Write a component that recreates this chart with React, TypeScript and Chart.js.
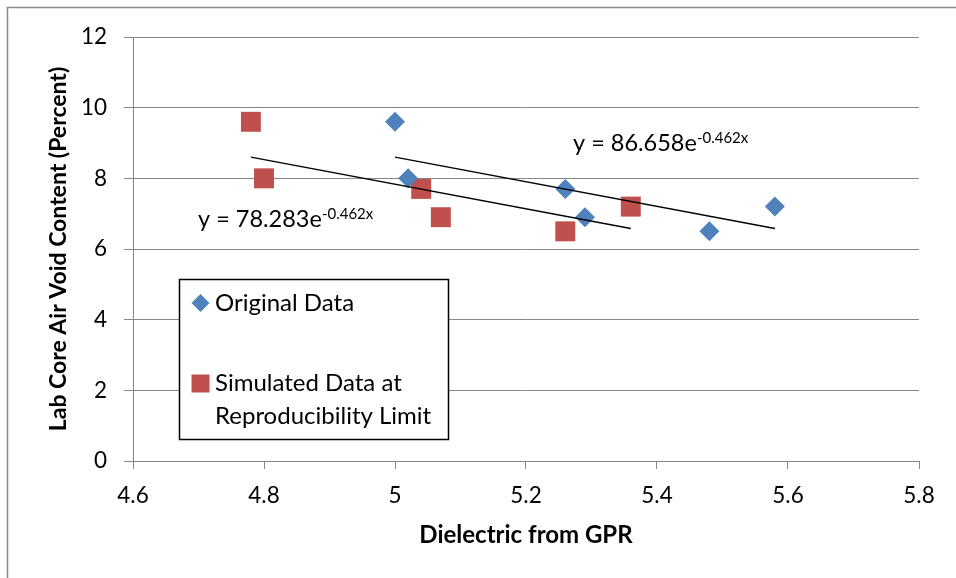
import { useEffect, useRef } from 'react';
import { Chart, registerables } from 'chart.js';

Chart.register(...registerables);

// Data
const originalX = [5.0, 5.02, 5.26, 5.29, 5.48, 5.58];
const originalY = [9.6, 8.0, 7.7, 6.9, 6.5, 7.2];
const simulatedX = [4.78, 4.8, 5.04, 5.07, 5.26, 5.36];
const simulatedY = [9.6, 8.0, 7.7, 6.9, 6.5, 7.2];
const originalTrendX = [5.0, 5.58];
const originalTrendY = [8.6, 6.58];
const simulatedTrendX = [4.78, 5.36];
const simulatedTrendY = [8.6, 6.58];
const xTickLabels = ['4.6', '4.8', '5', '5.2', '5.4', '5.6', '5.8'];
const yTickLabels = ['0', '2', '4', '6', '8', '10', '12'];
const seriesNames = ['Original Data', 'Simulated Data at', 'Reproducibility Limit'];
const originalEquation = ['y = 86.658e', '-0.462x'];
const simulatedEquation = ['y = 78.283e', '-0.462x'];
const xTitle = 'Dielectric from GPR';
const yTitle = 'Lab Core Air Void Content (Percent)';

const BLUE = '#4F81BD';
const RED = '#C0504D';
const GRID = '#878787';
const FONT = 'Lato, "Open Sans", sans-serif';

const toPoints = (xs: number[], ys: number[]) => xs.map((x, i) => ({ x, y: ys[i] }));

export default function App() {
  const ref = useRef<HTMLCanvasElement>(null);

  useEffect(() => {
    const canvas = ref.current!;

    const overlay = {
      id: 'overlay',
      beforeDraw(chart: any) {
        const ctx = chart.ctx;
        ctx.save();
        ctx.fillStyle = '#ffffff';
        ctx.fillRect(0, 0, chart.width, chart.height);
        ctx.restore();
      },
      afterDraw(chart: any) {
        const ctx: CanvasRenderingContext2D = chart.ctx;
        ctx.save();
        // outer chart border
        ctx.strokeStyle = '#8a8a8a';
        ctx.lineWidth = 1.5;
        ctx.strokeRect(7.5, 7.5, 1200, 1200);

        // equations
        const drawEq = (eq: string[], x: number, y: number) => {
          ctx.fillStyle = '#000';
          ctx.textBaseline = 'alphabetic';
          ctx.textAlign = 'left';
          ctx.font = `23.5px ${FONT}`;
          ctx.fillText(eq[0], x, y);
          const w = ctx.measureText(eq[0]).width;
          ctx.font = `15px ${FONT}`;
          ctx.fillText(eq[1], x + w, y - 8);
        };
        drawEq(originalEquation, 573, 151);
        drawEq(simulatedEquation, 198, 227);

        // legend box
        ctx.fillStyle = '#ffffff';
        ctx.fillRect(179, 279, 270, 161);
        ctx.strokeStyle = '#000';
        ctx.lineWidth = 1.5;
        ctx.strokeRect(179.5, 279.5, 269, 160);

        // diamond
        ctx.fillStyle = BLUE;
        ctx.beginPath();
        ctx.moveTo(200.5 - 9, 303);
        ctx.lineTo(200.5, 303 - 9);
        ctx.lineTo(200.5 + 9, 303);
        ctx.lineTo(200.5, 303 + 9);
        ctx.closePath();
        ctx.fill();
        // square
        ctx.fillStyle = RED;
        ctx.fillRect(191.5, 374.5, 18, 18);

        ctx.fillStyle = '#000';
        ctx.font = `24px ${FONT}`;
        ctx.textBaseline = 'alphabetic';
        ctx.fillText(seriesNames[0], 215, 311);
        ctx.fillText(seriesNames[1], 215, 391);
        ctx.fillText(seriesNames[2], 215, 424);
        ctx.restore();
      },
    };

    const chart = new Chart(canvas, {
      type: 'scatter',
      data: {
        datasets: [
          {
            label: 'Original trend',
            data: toPoints(originalTrendX, originalTrendY),
            showLine: true,
            borderColor: '#000',
            borderWidth: 1.5,
            pointRadius: 0,
          },
          {
            label: 'Simulated trend',
            data: toPoints(simulatedTrendX, simulatedTrendY),
            showLine: true,
            borderColor: '#000',
            borderWidth: 1.5,
            pointRadius: 0,
          },
          {
            label: seriesNames[0],
            data: toPoints(originalX, originalY),
            pointStyle: 'rectRot',
            pointRadius: 10,
            backgroundColor: BLUE,
            borderColor: BLUE,
            borderWidth: 0,
          },
          {
            label: seriesNames[1] + ' ' + seriesNames[2],
            data: toPoints(simulatedX, simulatedY),
            pointStyle: 'rect',
            pointRadius: 14.1,
            backgroundColor: RED,
            borderColor: RED,
            borderWidth: 0,
          },
        ],
      },
      options: {
        responsive: false,
        animation: false,
        devicePixelRatio: 1,
        layout: { padding: { top: 37, right: 37, left: 0, bottom: 0 } },
        plugins: {
          legend: { display: false },
          tooltip: { enabled: false },
        },
        events: [],
        scales: {
          x: {
            type: 'linear',
            min: 4.6,
            max: 5.8,
            afterFit: (s: any) => { s.height = 117; },
            ticks: {
              stepSize: 0.2,
              color: '#000',
              font: { family: FONT, size: 22.5 },
              padding: 13,
              callback: (_v: any, i: number) => xTickLabels[i],
            },
            grid: {
              drawOnChartArea: false,
              drawTicks: true,
              tickLength: 8,
              color: GRID,
              lineWidth: 1,
            },
            border: { color: GRID, width: 1 },
            title: {
              display: true,
              text: xTitle,
              color: '#000',
              font: { family: FONT, size: 24, weight: 'bold' },
              padding: { top: 0, bottom: 28 },
            },
          },
          y: {
            type: 'linear',
            min: 0,
            max: 12,
            afterFit: (s: any) => { s.width = 133; },
            ticks: {
              stepSize: 2,
              color: '#000',
              font: { family: FONT, size: 22.5 },
              padding: 17,
              callback: (_v: any, i: number) => yTickLabels[i],
            },
            grid: {
              drawOnChartArea: true,
              drawTicks: true,
              tickLength: 9,
              color: GRID,
              lineWidth: 1,
            },
            border: { color: GRID, width: 1 },
            title: {
              display: true,
              text: yTitle,
              color: '#000',
              font: { family: FONT, size: 23, weight: 'bold' },
              padding: { top: 45, bottom: 0 },
            },
          },
        },
      },
      plugins: [overlay],
    } as any);

    return () => chart.destroy();
  }, []);

  return (
    <div style={{ position: 'absolute', left: 0, top: 0, width: 956, height: 578, background: '#fff' }}>
      <canvas ref={ref} width={956} height={578} style={{ display: 'block' }} />
    </div>
  );
}
